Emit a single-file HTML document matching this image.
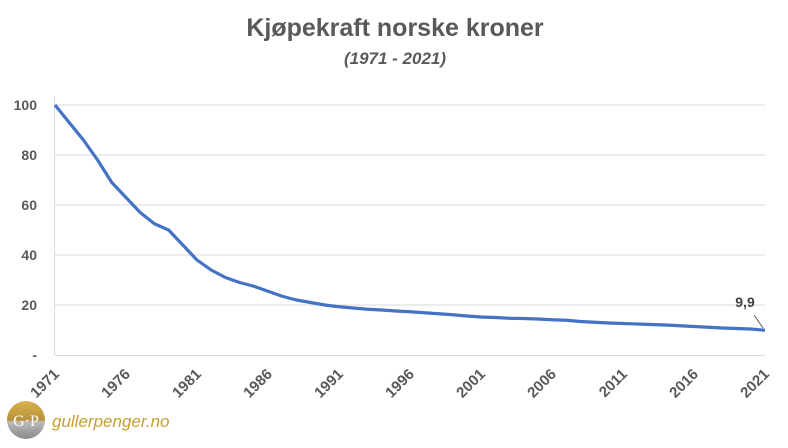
<!DOCTYPE html>
<html><head><style>body{margin:0;background:#fff}</style></head><body>
<svg width="788" height="443" xmlns="http://www.w3.org/2000/svg" font-family="Liberation Sans, sans-serif">
<defs><linearGradient id="g" x1="0" y1="0" x2="0" y2="1"><stop offset="0" stop-color="#d9b24a"/><stop offset="0.5" stop-color="#b8923a"/><stop offset="0.55" stop-color="#bbbbbb"/><stop offset="1" stop-color="#888"/></linearGradient></defs>
<text x="395" y="36" text-anchor="middle" font-size="25" font-weight="bold" fill="#595959">Kjøpekraft norske kroner</text>
<text x="395" y="64" text-anchor="middle" font-size="17" font-weight="bold" font-style="italic" fill="#595959">(1971 - 2021)</text>
<g stroke="#d9d9d9" stroke-width="1">
<line x1="55" y1="105" x2="765" y2="105"/><line x1="55" y1="155" x2="765" y2="155"/><line x1="55" y1="205" x2="765" y2="205"/><line x1="55" y1="255" x2="765" y2="255"/><line x1="55" y1="305" x2="765" y2="305"/>
<line x1="54.5" y1="96" x2="54.5" y2="355"/><line x1="54.5" y1="355.5" x2="765" y2="355.5"/>
</g>
<g font-size="14" font-weight="bold" fill="#595959" text-anchor="end">
<text x="37" y="110">100</text><text x="37" y="160">80</text><text x="37" y="210">60</text><text x="37" y="260">40</text><text x="37" y="310">20</text><text x="37" y="360">-</text>
</g>
<g font-size="15" font-weight="bold" fill="#595959" text-anchor="end">
<text transform="translate(60,375) rotate(-45)">1971</text>
<text transform="translate(131,375) rotate(-45)">1976</text>
<text transform="translate(202,375) rotate(-45)">1981</text>
<text transform="translate(273,375) rotate(-45)">1986</text>
<text transform="translate(344,375) rotate(-45)">1991</text>
<text transform="translate(415,375) rotate(-45)">1996</text>
<text transform="translate(486,375) rotate(-45)">2001</text>
<text transform="translate(557,375) rotate(-45)">2006</text>
<text transform="translate(628,375) rotate(-45)">2011</text>
<text transform="translate(699,375) rotate(-45)">2016</text>
<text transform="translate(770,375) rotate(-45)">2021</text>
</g>
<g transform="translate(55,355) scale(14.2,-2.5)">
<polyline fill="none" stroke="#4472c4" stroke-width="3.2" stroke-linejoin="round" vector-effect="non-scaling-stroke" points="0,100 1,93 2,86 3,78 4,69 5,63 6,57 7,52.5 8,50 9,44 10,38 11,34 12,31 13,29 14,27.5 15,25.5 16,23.5 17,22 18,21 19,20 20,19.3 21,18.8 22,18.3 23,18 24,17.6 25,17.3 26,16.9 27,16.5 28,16.1 29,15.6 30,15.2 31,15 32,14.7 33,14.6 34,14.4 35,14.1 36,13.9 37,13.4 38,13.1 39,12.8 40,12.6 41,12.4 42,12.2 43,12 44,11.7 45,11.4 46,11.1 47,10.8 48,10.6 49,10.4 50,9.9"/>
</g>
<line x1="754" y1="315" x2="763" y2="328" stroke="#595959" stroke-width="1"/>
<text x="745" y="307" text-anchor="middle" font-size="14" font-weight="bold" fill="#404040">9,9</text>
<circle cx="26" cy="420" r="19" fill="url(#g)"/>
<text x="26" y="426" text-anchor="middle" font-family="Liberation Serif, serif" font-size="16" fill="#fff">G·P</text>
<text x="52" y="427" font-size="17" font-style="italic" fill="#c4a030">gullerpenger.no</text>
</svg>
</body></html>
